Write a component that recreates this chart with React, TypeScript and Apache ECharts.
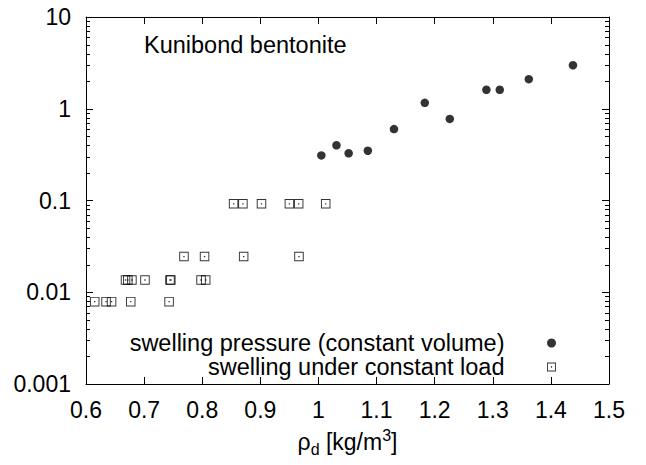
import React, { useEffect, useRef } from "react";
import * as echarts from "echarts";

// Swelling pressure (constant volume): dry density and pressure
const pressureRho = [1.005, 1.031, 1.052, 1.085, 1.13, 1.183, 1.226, 1.289, 1.312, 1.362, 1.438];
const pressureVal = [0.31, 0.4, 0.327, 0.349, 0.6, 1.16, 0.775, 1.61, 1.61, 2.1, 2.98];

// Swelling under constant load
const loadRho = [
  0.854, 0.87, 0.902, 0.95, 0.966, 1.0125,
  0.7686, 0.804, 0.8713, 0.9665,
  0.668, 0.672, 0.679, 0.7015, 0.7445, 0.746, 0.798, 0.806,
  0.615, 0.6345, 0.644, 0.677, 0.743,
];
const loadVal = [
  0.092, 0.092, 0.092, 0.092, 0.092, 0.092,
  0.0245, 0.0245, 0.0245, 0.0245,
  0.0136, 0.0136, 0.0136, 0.0136, 0.0136, 0.0136, 0.0136, 0.0136,
  0.0079, 0.0079, 0.0079, 0.0079, 0.0079,
];

const yTickLabels = ["0.001", "0.01", "0.1", "1", "10"];
const decades = [0.001, 0.01, 0.1, 1];
const minorMultipliers = [2, 3, 4, 5, 6, 7, 8, 9];

const seriesNames = ["swelling pressure (constant volume)", "swelling under constant load"];
const noteText = "Kunibond bentonite";

const FONT = "Liberation Sans, Arial, Helvetica, sans-serif";
const squarePath = "path://M0,0H10V10H0Z M1,1V9H9V1Z M4.3,4.3H5.7V5.7H4.3Z";

export default function App() {
  const ref = useRef<HTMLDivElement>(null);
  useEffect(() => {
    if (!ref.current) return;
    const chart = echarts.init(ref.current, null, { renderer: "svg" });
    const minorTicks: number[][] = [];
    decades.forEach((d) => minorMultipliers.forEach((m) => minorTicks.push([0.6, d * m])));

    const xCommon = {
      type: "value",
      min: 0.6,
      max: 1.5,
      interval: 0.1,
      axisLine: { show: true, onZero: false, lineStyle: { color: "#000", width: 1 } },
      axisTick: { show: true, inside: true, length: 7, lineStyle: { color: "#000" } },
      splitLine: { show: false },
    };
    const yCommon = {
      type: "log",
      logBase: 10,
      min: 0.001,
      max: 10,
      axisLine: { show: true, onZero: false, lineStyle: { color: "#000", width: 1 } },
      axisTick: { show: true, inside: true, length: 7, lineStyle: { color: "#000" } },
      splitLine: { show: false },
      minorTick: { show: false },
    };

    chart.setOption({
      animation: false,
      backgroundColor: "#fff",
      textStyle: { fontFamily: FONT },
      grid: { left: 86, right: 37, top: 17, bottom: 81, containLabel: false },
      xAxis: [
        {
          ...xCommon,
          position: "bottom",
          name: "{a|ρ}{sub|d}{a| [kg/m}{sup|3}{a|]}",
          nameLocation: "middle",
          nameGap: 43,
          nameTextStyle: {
            fontFamily: FONT,
            color: "#000",
            rich: {
              a: { fontSize: 23, fontFamily: FONT, color: "#000", lineHeight: 30, verticalAlign: "middle" },
              sub: { fontSize: 16, fontFamily: FONT, color: "#000", lineHeight: 15, verticalAlign: "bottom" },
              sup: { fontSize: 16, fontFamily: FONT, color: "#000", lineHeight: 20, verticalAlign: "top" },
            },
          },
          axisLabel: { show: true, margin: 14, fontSize: 23, color: "#000", fontFamily: FONT },
        },
        {
          ...xCommon,
          position: "top",
          axisLabel: { show: false },
        },
      ],
      yAxis: [
        {
          ...yCommon,
          position: "left",
          axisLabel: {
            show: true,
            margin: 15,
            fontSize: 23,
            color: "#000",
            fontFamily: FONT,
            formatter: (v: number) => yTickLabels[Math.round(Math.log10(v)) + 3],
          },
        },
        {
          ...yCommon,
          position: "right",
          axisLabel: { show: false },
        },
      ],
      legend: {
        orient: "vertical",
        align: "right",
        right: 90,
        top: 331,
        padding: 0,
        itemGap: 0,
        itemWidth: 84,
        itemHeight: 9,
        selectedMode: false,
        textStyle: { fontSize: 23.5, color: "#000", fontFamily: FONT, lineHeight: 24 },
        data: [
          { name: seriesNames[0], icon: "circle" },
          { name: seriesNames[1], icon: squarePath },
        ],
      },
      graphic: [
        {
          type: "text",
          x: 144,
          y: 45,
          style: {
            text: noteText,
            fontSize: 23.5,
            fontFamily: FONT,
            fill: "#000",
            verticalAlign: "middle",
            align: "left",
          },
        },
      ],
      series: [
        {
          name: seriesNames[0],
          type: "scatter",
          symbol: "circle",
          symbolSize: 8.5,
          itemStyle: { color: "#000" },
          data: pressureRho.map((r, i) => [r, pressureVal[i]]),
          z: 3,
        },
        {
          name: seriesNames[1],
          type: "scatter",
          symbol: squarePath,
          symbolSize: 9.5,
          symbolKeepAspect: true,
          itemStyle: { color: "#000" },
          data: loadRho.map((r, i) => [r, loadVal[i]]),
          z: 3,
        },
        {
          name: "minorTicks",
          type: "custom",
          silent: true,
          xAxisIndex: 0,
          yAxisIndex: 0,
          clip: false,
          data: minorTicks,
          renderItem: (params: any, api: any) => {
            const v = api.value(1);
            const left = api.coord([0.6, v]);
            const right = api.coord([1.5, v]);
            const y = Math.round(left[1]) + 0.5;
            return {
              type: "group",
              children: [
                {
                  type: "line",
                  shape: { x1: left[0], y1: y, x2: left[0] + 4, y2: y },
                  style: { stroke: "#000", lineWidth: 1 },
                },
                {
                  type: "line",
                  shape: { x1: right[0] - 4, y1: y, x2: right[0], y2: y },
                  style: { stroke: "#000", lineWidth: 1 },
                },
              ],
            };
          },
        },
      ],
    });
    return () => chart.dispose();
  }, []);
  return (
    <div
      ref={ref}
      style={{ position: "fixed", left: 0, top: 0, width: 646, height: 465, background: "#fff" }}
    />
  );
}
